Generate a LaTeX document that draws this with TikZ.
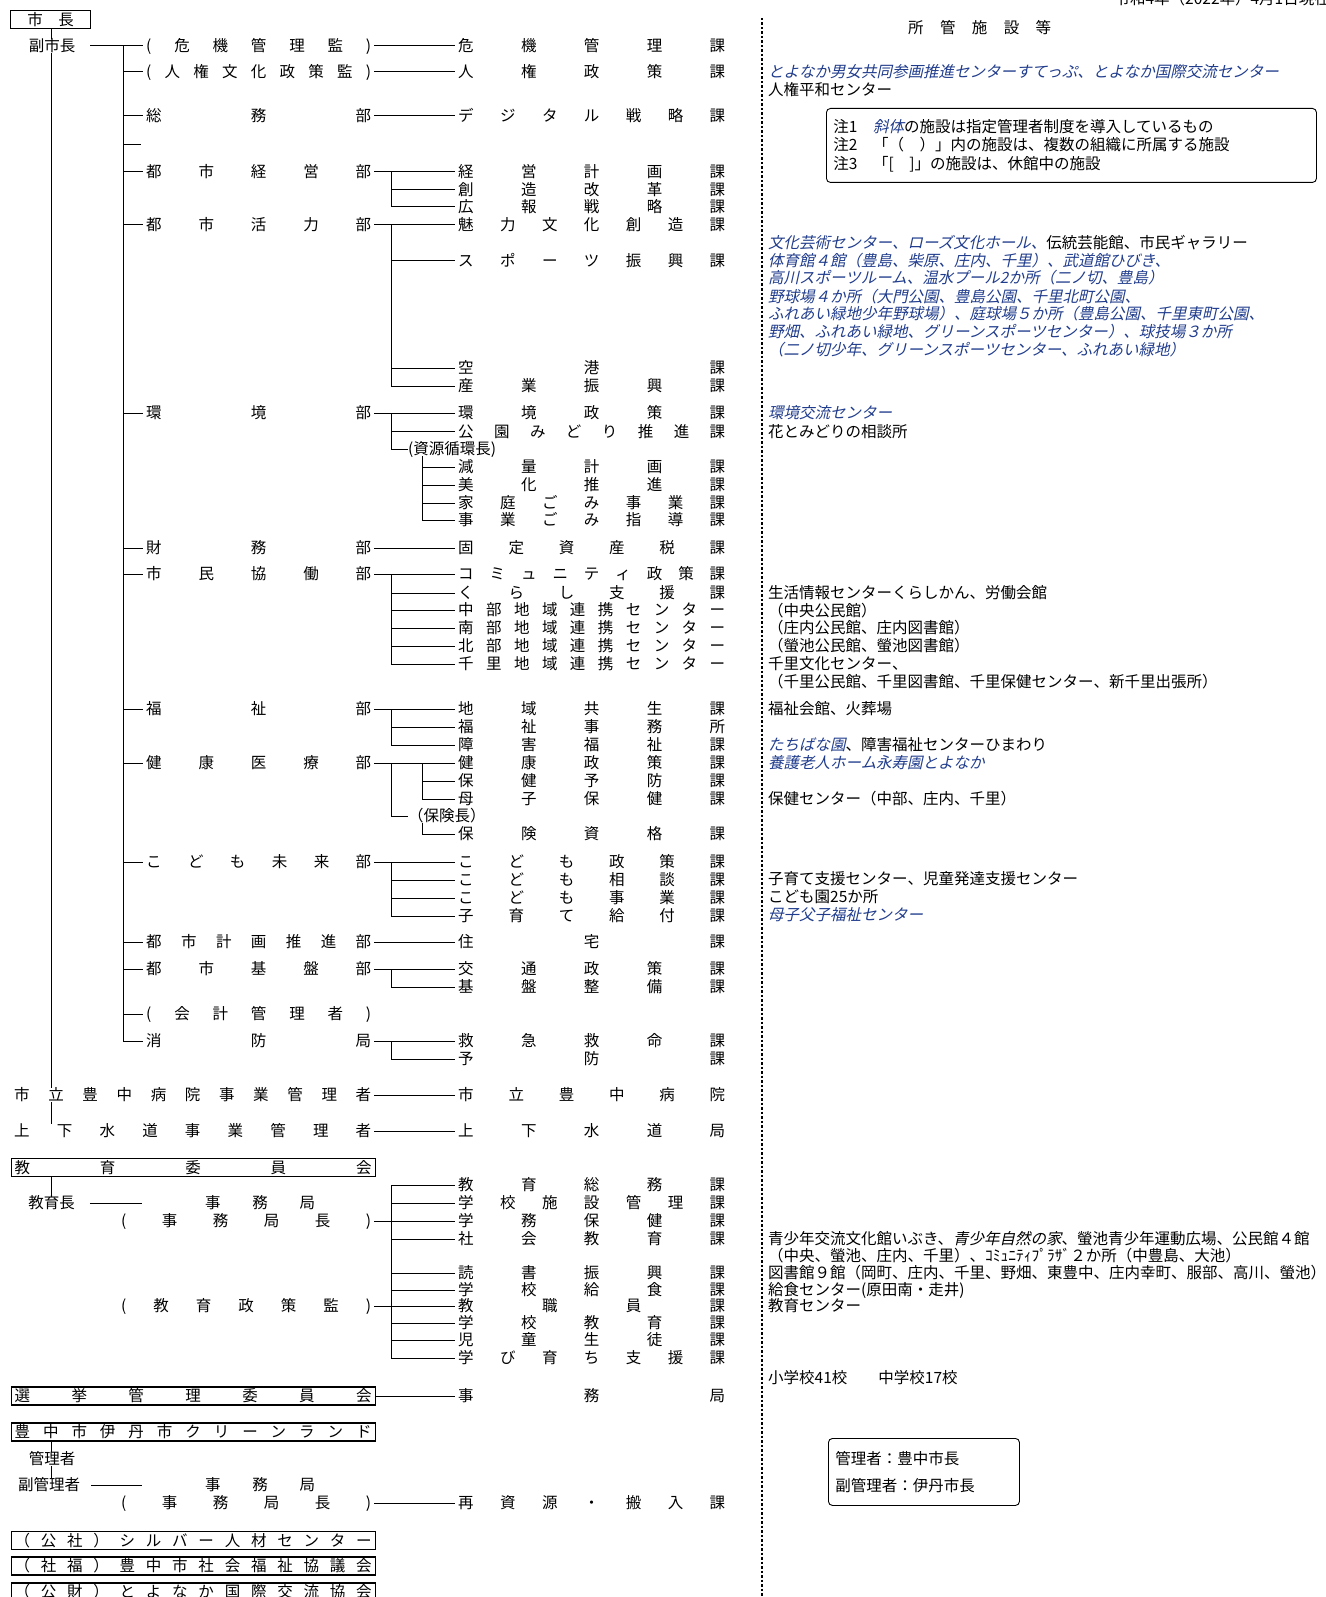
\documentclass[tikz,border=0pt]{standalone}
\usepackage{fontspec}
\newfontfamily\jp{Noto Sans CJK JP}
\newfontfamily\jpit[FakeSlant=0.22]{Noto Sans CJK JP}
\definecolor{facblue}{RGB}{32,60,140}

% spread the characters of a label over a fixed width
\newcommand{\spaced}[2]{\makebox[#1pt][s]{\spacedfirst#2\relax}}
\def\spacedfirst#1{\ifx#1\relax\else#1\expandafter\spacednext\fi}
\def\spacednext#1{\ifx#1\relax\else\hfill#1\expandafter\spacednext\fi}
% facilities run by designated managers (italic, blue)
\newcommand{\shitei}[1]{{\jpit\color{facblue}#1}}
\newcommand{\slanted}[1]{{\jpit #1}}

\begin{document}
\begin{tikzpicture}
        [x=1pt, y=-1pt, font=\jp\fontsize{15.5}{18}\selectfont,
        lbl/.style={anchor=west, inner xsep=3pt, inner ysep=0pt, text height=12.9pt, text depth=1.1pt},
        orgbox/.style={draw, line width=1.2pt, anchor=west, inner xsep=3.5pt, inner ysep=0pt, minimum height=18pt, text height=12.9pt, text depth=1.1pt},
        fac/.style={anchor=west, inner sep=0pt, text height=12.9pt, text depth=1.1pt},
        notebox/.style={draw, line width=0.9pt, rounded corners=4pt, anchor=north west, align=left, inner xsep=7pt, inner ysep=0pt, font=\jp\fontsize{15.5}{18.5}\selectfont},
        conn/.style={line width=1pt, black}]

        \useasboundingbox (0,0) rectangle (1325,1597);

        \coordinate (trunk) at (51,0);
        \coordinate (branch) at (123,0);
        \coordinate (sub) at (391,0);
        \coordinate (subin) at (422,0);

        % mayor and vice mayor
        \node[orgbox, anchor=center, minimum width=80.5pt] (mayor) at (50.5,19.5) {市　長};
        \node[lbl, anchor=center] (vice) at (52,46) {副市長};

        % departments
        \node[lbl] (kikikan) at (143,46) {\spaced{225}{(危機管理監)}};
        \node[lbl] (jinkenkan) at (143,71.5) {\spaced{225}{(人権文化政策監)}};
        \node[lbl] (somu) at (143,116) {\spaced{225}{総務部}};
        \coordinate (blank) at (141,144.5);
        \node[lbl] (keiei) at (143,172) {\spaced{225}{都市経営部}};
        \node[lbl] (katsuryoku) at (143,224.5) {\spaced{225}{都市活力部}};
        \node[lbl] (kankyobu) at (143,413) {\spaced{225}{環境部}};
        \node[lbl] (zaimu) at (143,548) {\spaced{225}{財務部}};
        \node[lbl] (shimin) at (143,574) {\spaced{225}{市民協働部}};
        \node[lbl] (fukushi) at (143,709) {\spaced{225}{福祉部}};
        \node[lbl] (kenkobu) at (143,763) {\spaced{225}{健康医療部}};
        \node[lbl] (kodomobu) at (143,862) {\spaced{225}{こども未来部}};
        \node[lbl] (toshikeikaku) at (143,942) {\spaced{225}{都市計画推進部}};
        \node[lbl] (kibanbu) at (143,969) {\spaced{225}{都市基盤部}};
        \node[lbl] (kaikei) at (143,1014) {\spaced{225}{(会計管理者)}};
        \node[lbl] (shobo) at (143,1041) {\spaced{225}{消防局}};

        % sections
        \node[lbl] (kikika) at (455,46) {\spaced{267}{危機管理課}};
        \node[lbl] (jinkenka) at (455,71.5) {\spaced{267}{人権政策課}};
        \node[lbl] (digital) at (455,116) {\spaced{267}{デジタル戦略課}};
        \node[lbl] (keikaku) at (455,172) {\spaced{267}{経営計画課}};
        \node[lbl] (sozo) at (455,189.5) {\spaced{267}{創造改革課}};
        \node[lbl] (koho) at (455,207) {\spaced{267}{広報戦略課}};
        \node[lbl] (miryoku) at (455,224.5) {\spaced{267}{魅力文化創造課}};
        \node[lbl] (sports) at (455,261) {\spaced{267}{スポーツ振興課}};
        \node[lbl] (kuko) at (455,368) {\spaced{267}{空港課}};
        \node[lbl] (sangyo) at (455,386) {\spaced{267}{産業振興課}};
        \node[lbl] (kankyo) at (455,413) {\spaced{267}{環境政策課}};
        \node[lbl] (koen) at (455,431.5) {\spaced{267}{公園みどり推進課}};
        \node[lbl, inner xsep=0pt] (shigen) at (408,449) {(資源循環長)};
        \node[lbl] (genryo) at (455,467) {\spaced{267}{減量計画課}};
        \node[lbl] (bika) at (455,485) {\spaced{267}{美化推進課}};
        \node[lbl] (katei) at (455,503) {\spaced{267}{家庭ごみ事業課}};
        \node[lbl] (jigyo) at (455,520) {\spaced{267}{事業ごみ指導課}};
        \node[lbl] (kotei) at (455,548) {\spaced{267}{固定資産税課}};
        \node[lbl] (community) at (455,574) {\spaced{267}{コミュニティ政策課}};
        \node[lbl] (kurashi) at (455,593) {\spaced{267}{くらし支援課}};
        \node[lbl] (chubu) at (455,610) {\spaced{267}{中部地域連携センター}};
        \node[lbl] (nanbu) at (455,628) {\spaced{267}{南部地域連携センター}};
        \node[lbl] (hokubu) at (455,646) {\spaced{267}{北部地域連携センター}};
        \node[lbl] (senri) at (455,664) {\spaced{267}{千里地域連携センター}};
        \node[lbl] (chiiki) at (455,709) {\spaced{267}{地域共生課}};
        \node[lbl] (jimusho) at (455,727) {\spaced{267}{福祉事務所}};
        \node[lbl] (shogai) at (455,745) {\spaced{267}{障害福祉課}};
        \node[lbl] (kenko) at (455,763) {\spaced{267}{健康政策課}};
        \node[lbl] (hokenyobo) at (455,781) {\spaced{267}{保健予防課}};
        \node[lbl] (boshi) at (455,799) {\spaced{267}{母子保健課}};
        \node[lbl, inner xsep=0pt] (hokencho) at (408,816) {（保険長）};
        \node[lbl] (shikaku) at (455,834) {\spaced{267}{保険資格課}};
        \node[lbl] (kseisaku) at (455,862) {\spaced{267}{こども政策課}};
        \node[lbl] (ksodan) at (455,880) {\spaced{267}{こども相談課}};
        \node[lbl] (kjigyo) at (455,898) {\spaced{267}{こども事業課}};
        \node[lbl] (kosodate) at (455,916) {\spaced{267}{子育て給付課}};
        \node[lbl] (jutaku) at (455,942) {\spaced{267}{住宅課}};
        \node[lbl] (kotsu) at (455,969) {\spaced{267}{交通政策課}};
        \node[lbl] (kiban) at (455,987) {\spaced{267}{基盤整備課}};
        \node[lbl] (kyukyu) at (455,1041) {\spaced{267}{救急救命課}};
        \node[lbl] (yobo) at (455,1059) {\spaced{267}{予防課}};

        % public enterprises
        \node[lbl] (hospmgr) at (11,1095) {\spaced{357}{市立豊中病院事業管理者}};
        \node[lbl] (hospital) at (455,1095) {\spaced{267}{市立豊中病院}};
        \node[lbl] (suidomgr) at (11,1131) {\spaced{357}{上下水道事業管理者}};
        \node[lbl] (suido) at (455,1131) {\spaced{267}{上下水道局}};

        % board of education
        \node[orgbox] (kyoikuiin) at (10.5,1167.5) {\spaced{357}{教育委員会}};
        \node[lbl, anchor=center] (kyoikucho) at (51.5,1203) {教育長};
        \coordinate (kyoikuchoend) at (142,1203);
        \node[lbl] (jimukyoku) at (202,1203) {\spaced{110}{事務局}};
        \node[lbl] (jimukyokucho) at (118,1221) {\spaced{250}{(事務局長)}};
        \node[lbl] (seisakukan) at (118,1306) {\spaced{250}{(教育政策監)}};
        \node[lbl] (kyoikusomu) at (455,1185) {\spaced{267}{教育総務課}};
        \node[lbl] (shisetsu) at (455,1203) {\spaced{267}{学校施設管理課}};
        \node[lbl] (gakumu) at (455,1221) {\spaced{267}{学務保健課}};
        \node[lbl] (shakai) at (455,1239) {\spaced{267}{社会教育課}};
        \node[lbl] (dokusho) at (455,1273) {\spaced{267}{読書振興課}};
        \node[lbl] (kyushoku) at (455,1290) {\spaced{267}{学校給食課}};
        \node[lbl] (kyoshoku) at (455,1306) {\spaced{267}{教職員課}};
        \node[lbl] (gakko) at (455,1323) {\spaced{267}{学校教育課}};
        \node[lbl] (jido) at (455,1340) {\spaced{267}{児童生徒課}};
        \node[lbl] (manabi) at (455,1358) {\spaced{267}{学び育ち支援課}};

        % other bodies
        \node[orgbox] (senkyo) at (10.5,1396) {\spaced{357}{選挙管理委員会}};
        \node[lbl] (senkyojim) at (455,1396) {\spaced{267}{事務局}};
        \node[orgbox] (clean) at (10.5,1432) {\spaced{357}{豊中市伊丹市クリーンランド}};
        \node[lbl, anchor=center] (kanrisha) at (52,1459) {管理者};
        \node[lbl, anchor=center] (fukukanri) at (49,1485) {副管理者};
        \coordinate (fukukanriend) at (142,1485);
        \node[lbl] (cljimukyoku) at (202,1485) {\spaced{110}{事務局}};
        \node[lbl] (cljimukyokucho) at (118,1503) {\spaced{250}{(事務局長)}};
        \node[lbl] (saishigen) at (455,1503) {\spaced{267}{再資源・搬入課}};
        \node[orgbox] (silver) at (10.5,1540.5) {\spaced{357}{（公社）シルバー人材センター}};
        \node[orgbox] (shafuku) at (10.5,1566) {\spaced{357}{（社福）豊中市社会福祉協議会}};
        \node[orgbox] (kokusai) at (10.5,1592) {\spaced{357}{（公財）とよなか国際交流協会}};

        % trunk lines
        \draw[conn] (mayor.south -| trunk) -- (vice.north -| trunk);
        \draw[conn] (vice.south -| trunk) -- (hospmgr.north -| trunk);
        \draw[conn] (hospmgr.south -| trunk) -- (suidomgr.north -| trunk);
        \draw[conn, shorten <=12pt] (vice.east) -- (kikikan.west);

        % branch to departments
        \draw[conn] (kikikan.west -| branch) |- (jinkenkan.west);
        \draw[conn] (kikikan.west -| branch) |- (somu.west);
        \draw[conn] (kikikan.west -| branch) |- (blank);
        \draw[conn] (kikikan.west -| branch) |- (keiei.west);
        \draw[conn] (kikikan.west -| branch) |- (katsuryoku.west);
        \draw[conn] (kikikan.west -| branch) |- (kankyobu.west);
        \draw[conn] (kikikan.west -| branch) |- (zaimu.west);
        \draw[conn] (kikikan.west -| branch) |- (shimin.west);
        \draw[conn] (kikikan.west -| branch) |- (fukushi.west);
        \draw[conn] (kikikan.west -| branch) |- (kenkobu.west);
        \draw[conn] (kikikan.west -| branch) |- (kodomobu.west);
        \draw[conn] (kikikan.west -| branch) |- (toshikeikaku.west);
        \draw[conn] (kikikan.west -| branch) |- (kibanbu.west);
        \draw[conn] (kikikan.west -| branch) |- (kaikei.west);
        \draw[conn] (kikikan.west -| branch) |- (shobo.west);

        % departments to sections
        \draw[conn] (kikikan.east) -- (kikika.west);
        \draw[conn] (jinkenkan.east) -- (jinkenka.west);
        \draw[conn] (somu.east) -- (digital.west);
        \draw[conn] (keiei.east) -- (keikaku.west);
        \draw[conn] (keikaku.west -| sub) |- (sozo.west);
        \draw[conn] (keikaku.west -| sub) |- (koho.west);
        \draw[conn] (katsuryoku.east) -- (miryoku.west);
        \draw[conn] (miryoku.west -| sub) |- (sports.west);
        \draw[conn] (miryoku.west -| sub) |- (kuko.west);
        \draw[conn] (miryoku.west -| sub) |- (sangyo.west);
        \draw[conn] (kankyobu.east) -- (kankyo.west);
        \draw[conn] (kankyo.west -| sub) |- (koen.west);
        \draw[conn] (kankyo.west -| sub) |- (shigen.west);
        \draw[conn] (shigen.south -| subin) |- (genryo.west);
        \draw[conn] (shigen.south -| subin) |- (bika.west);
        \draw[conn] (shigen.south -| subin) |- (katei.west);
        \draw[conn] (shigen.south -| subin) |- (jigyo.west);
        \draw[conn] (zaimu.east) -- (kotei.west);
        \draw[conn] (shimin.east) -- (community.west);
        \draw[conn] (community.west -| sub) |- (kurashi.west);
        \draw[conn] (community.west -| sub) |- (chubu.west);
        \draw[conn] (community.west -| sub) |- (nanbu.west);
        \draw[conn] (community.west -| sub) |- (hokubu.west);
        \draw[conn] (community.west -| sub) |- (senri.west);
        \draw[conn] (fukushi.east) -- (chiiki.west);
        \draw[conn] (chiiki.west -| sub) |- (jimusho.west);
        \draw[conn] (chiiki.west -| sub) |- (shogai.west);
        \draw[conn] (kenkobu.east) -- (kenko.west);
        \draw[conn] (kenko.west -| sub) |- (hokencho.west);
        \draw[conn] (kenko.west -| subin) |- (hokenyobo.west);
        \draw[conn] (kenko.west -| subin) |- (boshi.west);
        \draw[conn] (hokencho.south -| subin) |- (shikaku.west);
        \draw[conn] (kodomobu.east) -- (kseisaku.west);
        \draw[conn] (kseisaku.west -| sub) |- (ksodan.west);
        \draw[conn] (kseisaku.west -| sub) |- (kjigyo.west);
        \draw[conn] (kseisaku.west -| sub) |- (kosodate.west);
        \draw[conn] (toshikeikaku.east) -- (jutaku.west);
        \draw[conn] (kibanbu.east) -- (kotsu.west);
        \draw[conn] (kotsu.west -| sub) |- (kiban.west);
        \draw[conn] (shobo.east) -- (kyukyu.west);
        \draw[conn] (kyukyu.west -| sub) |- (yobo.west);
        \draw[conn] (hospmgr.east) -- (hospital.west);
        \draw[conn] (suidomgr.east) -- (suido.west);

        % education
        \draw[conn] (kyoikuiin.south -| trunk) -- (kyoikucho.north -| trunk);
        \draw[conn, shorten <=12pt] (kyoikucho.east) -- (kyoikuchoend);
        \draw[conn] (jimukyokucho.east) -- (gakumu.west);
        \draw[conn] (seisakukan.east) -- (kyoshoku.west);
        \draw[conn] (kyoikusomu.west -| sub) -- (kyoikusomu.west);
        \draw[conn] (kyoikusomu.west -| sub) |- (shisetsu.west);
        \draw[conn] (kyoikusomu.west -| sub) |- (shakai.west);
        \draw[conn] (kyoikusomu.west -| sub) |- (dokusho.west);
        \draw[conn] (kyoikusomu.west -| sub) |- (kyushoku.west);
        \draw[conn] (kyoikusomu.west -| sub) |- (gakko.west);
        \draw[conn] (kyoikusomu.west -| sub) |- (jido.west);
        \draw[conn] (kyoikusomu.west -| sub) |- (manabi.west);

        % election board and clean land
        \draw[conn] (senkyo.east) -- (senkyojim.west);
        \draw[conn] (clean.south -| trunk) -- (kanrisha.north -| trunk);
        \draw[conn] (kanrisha.south -| trunk) -- (fukukanri.north -| trunk);
        \draw[conn, shorten <=8pt] (fukukanri.east) -- (fukukanriend);
        \draw[conn] (cljimukyokucho.east) -- (saishigen.west);

        % facilities column
        \draw[line width=2.5pt, dash pattern=on 2.5pt off 2pt] (762,18) -- (762,1597);
        \node[fac, anchor=east] (date) at (1330,-1) {令和4年（2022年）4月1日現在};
        \node[fac] (shokan) at (908,28) {\spaced{143}{所管施設等}};
        \node[fac] (f-jinken1) at (768,72) {\shitei{とよなか男女共同参画推進センターすてっぷ、とよなか国際交流センター}};
        \node[fac] (f-jinken2) at (768,90) {人権平和センター};
        \node[notebox, text width=476pt, minimum height=74pt] (notes) at (826,108)
            {注1　\shitei{斜体}の施設は指定管理者制度を導入しているもの\\注2　「（　）」内の施設は、複数の組織に所属する施設\\注3　「[　]」の施設は、休館中の施設};
        \node[fac] (f-bunka) at (768,243) {\shitei{文化芸術センター、ローズ文化ホール、}伝統芸能館、市民ギャラリー};
        \node[fac] (f-sports1) at (768,261) {\shitei{体育館４館（豊島、柴原、庄内、千里）、武道館ひびき、}};
        \node[fac] (f-sports2) at (768,278) {\shitei{高川スポーツルーム、温水プール2か所（二ノ切、豊島）}};
        \node[fac] (f-sports3) at (768,297) {\shitei{野球場４か所（大門公園、豊島公園、千里北町公園、}};
        \node[fac] (f-sports4) at (768,314) {\shitei{ふれあい緑地少年野球場）、庭球場５か所（豊島公園、千里東町公園、}};
        \node[fac] (f-sports5) at (768,332) {\shitei{野畑、ふれあい緑地、グリーンスポーツセンター）、球技場３か所}};
        \node[fac] (f-sports6) at (768,350) {\shitei{（二ノ切少年、グリーンスポーツセンター、ふれあい緑地）}};
        \node[fac] (f-kankyo1) at (768,413) {\shitei{環境交流センター}};
        \node[fac] (f-kankyo2) at (768,431.5) {花とみどりの相談所};
        \node[fac] (f-kurashi) at (768,593) {生活情報センターくらしかん、労働会館};
        \node[fac] (f-chubu) at (768,611) {（中央公民館）};
        \node[fac] (f-nanbu) at (768,628) {（庄内公民館、庄内図書館）};
        \node[fac] (f-hokubu) at (768,646) {（螢池公民館、螢池図書館）};
        \node[fac] (f-senri1) at (768,664) {千里文化センター、};
        \node[fac] (f-senri2) at (768,682) {（千里公民館、千里図書館、千里保健センター、新千里出張所）};
        \node[fac] (f-fukushi) at (768,709) {福祉会館、火葬場};
        \node[fac] (f-shogai1) at (768,745) {\shitei{たちばな園}、障害福祉センターひまわり};
        \node[fac] (f-shogai2) at (768,763) {\shitei{養護老人ホーム永寿園とよなか}};
        \node[fac] (f-hoken) at (768,799) {保健センター（中部、庄内、千里）};
        \node[fac] (f-kodomo1) at (768,879) {子育て支援センター、児童発達支援センター};
        \node[fac] (f-kodomo2) at (768,897) {こども園25か所};
        \node[fac] (f-kodomo3) at (768,915) {\shitei{母子父子福祉センター}};
        \node[fac] (f-kyoiku1) at (768,1239) {青少年交流文化館いぶき、\slanted{青少年自然の家}、螢池青少年運動広場、公民館４館};
        \node[fac] (f-kyoiku2) at (768,1256) {（中央、螢池、庄内、千里）、ｺﾐｭﾆﾃｨﾌﾟﾗｻﾞ２か所（中豊島、大池）};
        \node[fac] (f-kyoiku3) at (768,1273) {図書館９館（岡町、庄内、千里、野畑、東豊中、庄内幸町、服部、高川、螢池）};
        \node[fac] (f-kyoiku4) at (768,1290) {給食センター(原田南・走井)};
        \node[fac] (f-kyoiku5) at (768,1306) {教育センター};
        \node[fac] (f-gakko) at (768,1378) {小学校41校　　中学校17校};
        \node[notebox, text width=177pt, minimum height=67pt] (cleannote) at (828,1438)
            {管理者：豊中市長\\[8.5pt]副管理者：伊丹市長};

    \end{tikzpicture}
\end{document}
